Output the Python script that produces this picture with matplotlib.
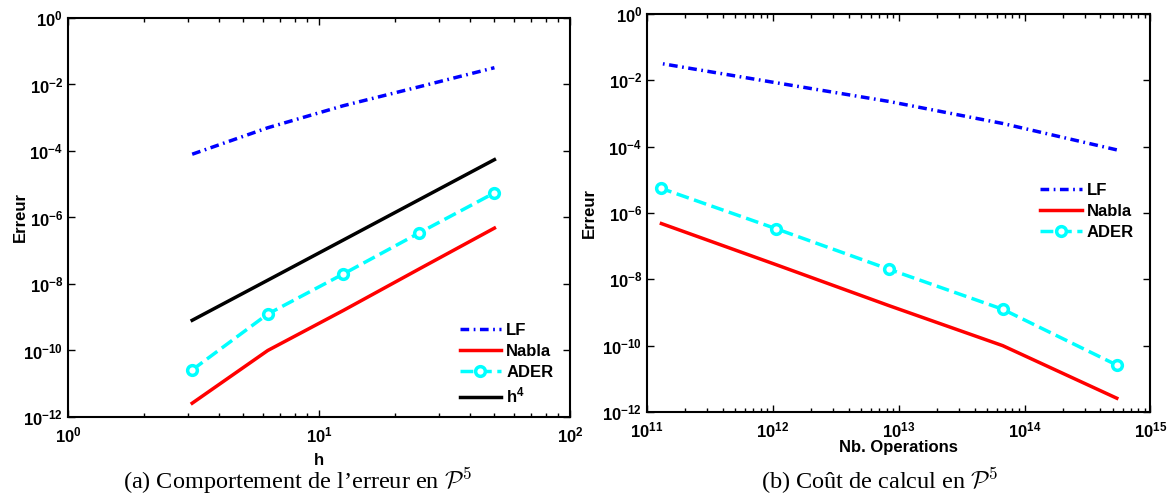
import numpy as np
import matplotlib
matplotlib.use('Agg')
import matplotlib.pyplot as plt
from matplotlib.ticker import LogLocator, NullFormatter

# Donnees
h = [3.125, 6.25, 12.5, 25, 50]
ops = [5.4e14, 6.7e13, 8.4e12, 1.05e12, 1.3e11]
err_lf = [8.0e-5, 5.0e-4, 2.3e-3, 8.5e-3, 3.2e-2]
err_nabla = [2.6e-12, 1.0e-10, 1.6e-9, 2.8e-8, 4.8e-7]
err_ader = [2.6e-11, 1.25e-9, 2.0e-8, 3.4e-7, 5.5e-6]
err_h4 = [8.1e-10, 1.3e-8, 2.1e-7, 3.4e-6, 5.5e-5]

plt.rcParams['font.family'] = ['Liberation Sans', 'DejaVu Sans']
plt.rcParams['font.weight'] = 'bold'
plt.rcParams['mathtext.fontset'] = 'cm'

fig = plt.figure(figsize=(11.68, 5), dpi=100)
ax1 = fig.add_axes([0.0582, 0.166, 0.4298, 0.798])
ax2 = fig.add_axes([0.554, 0.176, 0.431, 0.796])

lw = 2.5
for ax, x in [(ax1, h), (ax2, ops)]:
    ax.loglog(x, err_lf, color='blue', linestyle='-.', lw=lw,
              dashes=(2.5, 1.3, 0.5, 1.3), label='LF')
    ax.loglog(x, err_nabla, color='red', linestyle='-', lw=lw, label='Nabla')
    ax.loglog(x, err_ader, color='cyan', linestyle='--', lw=lw, marker='o',
              markersize=7, markerfacecolor='white', markeredgewidth=2.5,
              label='ADER')
ax1.loglog(h, err_h4, color='black', lw=lw, label=r'h$^\mathdefault{4}$')

ax1.set_xlim(1, 100)
ax2.set_xlim(1e11, 1e15)
for ax in (ax1, ax2):
    ax.set_ylim(1e-12, 1)
    ax.yaxis.set_major_locator(LogLocator(base=100, numticks=10))
    ax.yaxis.set_minor_locator(LogLocator(base=10, subs=[1.0], numticks=20))
    ax.yaxis.set_minor_formatter(NullFormatter())
    ax.xaxis.set_major_locator(LogLocator(base=10, numticks=10))
    ax.xaxis.set_minor_locator(LogLocator(base=10, subs=np.arange(2, 10), numticks=20))
    ax.xaxis.set_minor_formatter(NullFormatter())
    ax.tick_params(which='both', direction='in', top=True, right=True,
                   labelsize=12, width=1)
    ax.tick_params(which='major', length=5)
    ax.tick_params(which='minor', length=3)
    ax.tick_params(axis='y', which='minor', length=0)
    ax.tick_params(axis='x', which='major', pad=6)
    for s in ax.spines.values():
        s.set_linewidth(1.5)
    ax.set_ylabel('Erreur', fontsize=12, fontweight='bold')

ax1.set_xlabel('h', fontsize=12, fontweight='bold')
ax2.set_xlabel('Nb. Operations', fontsize=12, fontweight='bold')
ax1.xaxis.set_label_coords(0.5, -0.09)
ax2.xaxis.set_label_coords(0.5, -0.07)
ax1.yaxis.set_label_coords(-0.08, 0.5)
ax2.yaxis.set_label_coords(-0.099, 0.5)

leg_kw = dict(frameon=False, fontsize=12, handlelength=2.5, borderpad=0.2,
              labelspacing=0.35, handletextpad=0.3)
ax1.legend(loc='lower right', bbox_to_anchor=(0.99, 0.0), **leg_kw)
ax2.legend(loc='upper right', bbox_to_anchor=(0.99, 0.605), **leg_kw)

fig.text(0.255, 0.038, r"(a) Comportement de l’erreur en $\mathcal{P}^5$",
         ha='center', va='center', fontsize=17.5, family='Liberation Serif',
         fontweight='normal')
fig.text(0.753, 0.038, r"(b) Coût de calcul en $\mathcal{P}^5$",
         ha='center', va='center', fontsize=17.5, family='Liberation Serif',
         fontweight='normal')

fig.savefig('out.png', dpi=100)
